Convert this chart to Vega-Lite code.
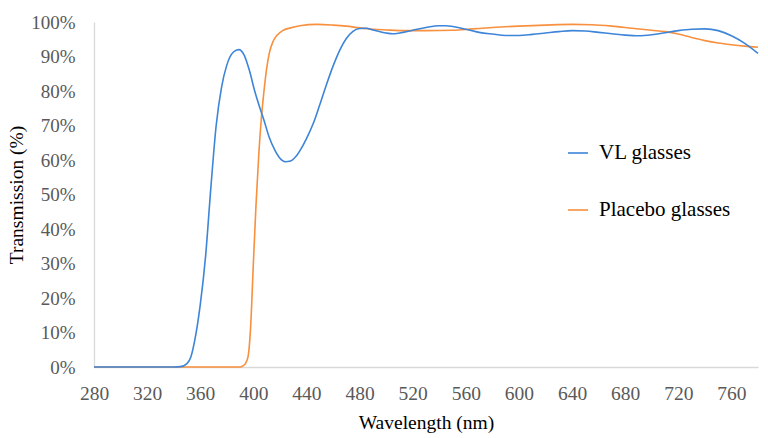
{
  "$schema": "https://vega.github.io/schema/vega-lite/v6.json",
  "width": 664,
  "height": 345,
  "autosize": "none",
  "padding": {"left": 94, "top": 22, "right": 10, "bottom": 71},
  "background": "white",
  "config": {
    "view": {"stroke": null},
    "font": "Liberation Serif",
    "axis": {
      "labelFont": "Liberation Serif", "labelFontSize": 19, "labelColor": "#595959",
      "labelOverlap": false,
      "titleFont": "Liberation Serif", "titleFontSize": 19.5, "titleFontWeight": "normal",
      "titleColor": "#000000",
      "grid": false, "ticks": false,
      "domainColor": "#d9d9d9", "domainWidth": 1.3
    }
  },
  "datasets": {
    "vl": [
      {"nm": 280, "t": 0}, {"nm": 300, "t": 0}, {"nm": 320, "t": 0}, {"nm": 340, "t": 0},
      {"nm": 345, "t": 0.1}, {"nm": 350, "t": 1}, {"nm": 353, "t": 3}, {"nm": 356, "t": 8},
      {"nm": 360, "t": 18}, {"nm": 364, "t": 32}, {"nm": 368, "t": 52}, {"nm": 372, "t": 70},
      {"nm": 376, "t": 81}, {"nm": 380, "t": 87.5}, {"nm": 385, "t": 91.3}, {"nm": 389, "t": 92},
      {"nm": 393, "t": 90.5}, {"nm": 397, "t": 86}, {"nm": 401, "t": 80}, {"nm": 405, "t": 75},
      {"nm": 408, "t": 71.5}, {"nm": 412, "t": 66.5}, {"nm": 416, "t": 63}, {"nm": 420, "t": 60.5},
      {"nm": 424, "t": 59.5}, {"nm": 428, "t": 59.7}, {"nm": 432, "t": 61}, {"nm": 436, "t": 63.3},
      {"nm": 440, "t": 66.2}, {"nm": 445, "t": 70.5}, {"nm": 450, "t": 76}, {"nm": 455, "t": 81.8},
      {"nm": 460, "t": 87.2}, {"nm": 465, "t": 91.8}, {"nm": 470, "t": 95.2}, {"nm": 475, "t": 97.3},
      {"nm": 480, "t": 98.1}, {"nm": 485, "t": 98.2}, {"nm": 490, "t": 97.7}, {"nm": 500, "t": 96.8},
      {"nm": 505, "t": 96.6}, {"nm": 510, "t": 96.8}, {"nm": 520, "t": 97.6}, {"nm": 530, "t": 98.4},
      {"nm": 540, "t": 98.9}, {"nm": 545, "t": 98.9}, {"nm": 550, "t": 98.7}, {"nm": 560, "t": 97.9},
      {"nm": 570, "t": 97.0}, {"nm": 580, "t": 96.5}, {"nm": 590, "t": 96.1}, {"nm": 600, "t": 96.1},
      {"nm": 610, "t": 96.4}, {"nm": 620, "t": 96.8}, {"nm": 630, "t": 97.2}, {"nm": 640, "t": 97.5},
      {"nm": 650, "t": 97.4}, {"nm": 660, "t": 97.0}, {"nm": 670, "t": 96.6}, {"nm": 680, "t": 96.2},
      {"nm": 690, "t": 96.0}, {"nm": 700, "t": 96.3}, {"nm": 710, "t": 96.9}, {"nm": 720, "t": 97.5},
      {"nm": 730, "t": 97.9}, {"nm": 740, "t": 98.0}, {"nm": 750, "t": 97.5}, {"nm": 760, "t": 96.0},
      {"nm": 770, "t": 93.8}, {"nm": 780, "t": 90.9}
    ],
    "placebo": [
      {"nm": 280, "t": 0}, {"nm": 320, "t": 0}, {"nm": 360, "t": 0}, {"nm": 390, "t": 0},
      {"nm": 392, "t": 0.3}, {"nm": 394, "t": 1}, {"nm": 396, "t": 3}, {"nm": 398, "t": 12},
      {"nm": 400, "t": 30}, {"nm": 402, "t": 47}, {"nm": 404, "t": 61}, {"nm": 406, "t": 72},
      {"nm": 408, "t": 80}, {"nm": 410, "t": 86.5}, {"nm": 412, "t": 91}, {"nm": 415, "t": 94.5},
      {"nm": 418, "t": 96.2}, {"nm": 422, "t": 97.5}, {"nm": 428, "t": 98.3}, {"nm": 435, "t": 98.9},
      {"nm": 448, "t": 99.3}, {"nm": 460, "t": 99.1}, {"nm": 470, "t": 98.8}, {"nm": 480, "t": 98.3},
      {"nm": 490, "t": 97.9}, {"nm": 500, "t": 97.7}, {"nm": 515, "t": 97.5}, {"nm": 530, "t": 97.5},
      {"nm": 550, "t": 97.6}, {"nm": 565, "t": 98.0}, {"nm": 580, "t": 98.4}, {"nm": 600, "t": 98.8},
      {"nm": 620, "t": 99.1}, {"nm": 640, "t": 99.3}, {"nm": 655, "t": 99.2}, {"nm": 670, "t": 98.8},
      {"nm": 685, "t": 98.2}, {"nm": 700, "t": 97.6}, {"nm": 710, "t": 97.2}, {"nm": 720, "t": 96.5},
      {"nm": 730, "t": 95.5}, {"nm": 740, "t": 94.6}, {"nm": 750, "t": 93.9}, {"nm": 760, "t": 93.4},
      {"nm": 770, "t": 93.0}, {"nm": 780, "t": 92.7}
    ]
  },
  "encoding": {
    "x": {
      "field": "nm", "type": "quantitative",
      "scale": {"domain": [280, 780], "nice": false, "zero": false},
      "axis": {
        "values": [280, 320, 360, 400, 440, 480, 520, 560, 600, 640, 680, 720, 760],
        "title": "Wavelength (nm)",
        "labelPadding": 17, "labelFlush": false, "labelOverlap": false,
        "labelFontSize": 19.5,
        "titlePadding": 11
      }
    },
    "y": {
      "field": "t", "type": "quantitative",
      "scale": {"domain": [0, 100], "nice": false},
      "axis": {
        "values": [0, 10, 20, 30, 40, 50, 60, 70, 80, 90, 100],
        "labelExpr": "datum.value + '%'",
        "title": "Transmission (%)",
        "labelPadding": 19, "labelOverlap": false,
        "labelFontSize": 19,
        "titlePadding": 4
      }
    },
    "color": {
      "field": "series", "type": "nominal",
      "scale": {"domain": ["VL glasses", "Placebo glasses"], "range": ["#3d85d8", "#f7903f"]},
      "legend": {
        "title": null,
        "orient": "none",
        "legendX": 473,
        "legendY": 120,
        "symbolType": "stroke",
        "symbolSize": 400,
        "symbolStrokeWidth": 1.6,
        "labelFont": "Liberation Serif",
        "labelFontSize": 21,
        "labelColor": "#000000",
        "labelOffset": 10,
        "rowPadding": 36
      }
    }
  },
  "layer": [
    {
      "data": {"name": "placebo"},
      "transform": [{"calculate": "'Placebo glasses'", "as": "series"}],
      "mark": {"type": "line", "interpolate": "monotone", "strokeWidth": 1.6}
    },
    {
      "data": {"name": "vl"},
      "transform": [{"calculate": "'VL glasses'", "as": "series"}],
      "mark": {"type": "line", "interpolate": "monotone", "strokeWidth": 1.6}
    }
  ]
}
